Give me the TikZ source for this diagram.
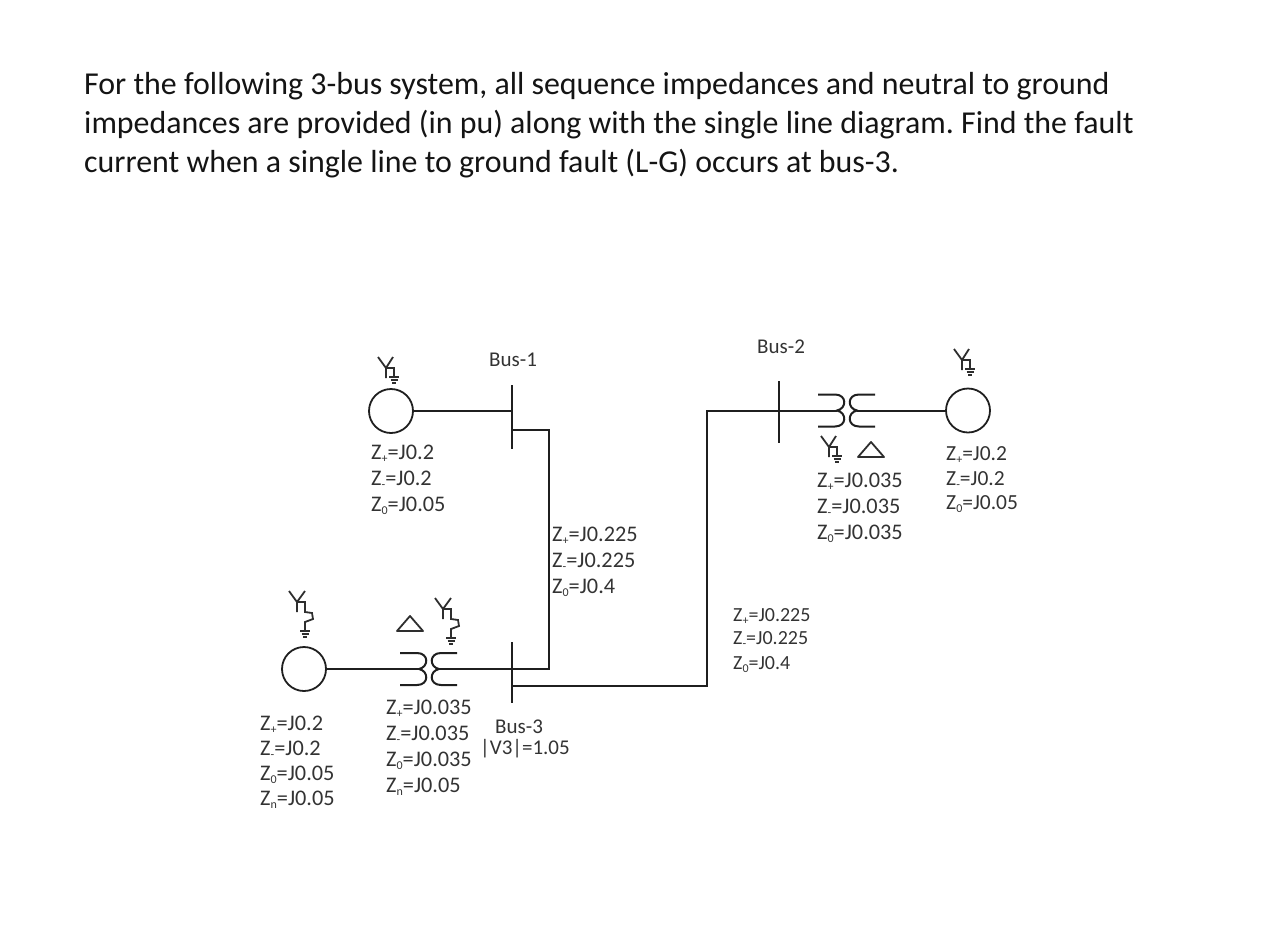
\documentclass[tikz,border=0pt]{standalone}
\usepackage{fontspec}
\setmainfont{Carlito}
\frenchspacing
\newcommand{\zl}[2]{Z{\fontsize{12}{12}\selectfont\raisebox{-3pt}{#1}}=J#2}
\tikzset{
  x=1pt,y=-1pt,
  wire/.style={line width=2pt,color=black!88},
  thin wire/.style={line width=1.8pt,color=black!82},
  qtext/.style={anchor=west,inner sep=0pt,font=\fontsize{31.9}{34}\selectfont,text=black!92},
  lbl/.style={anchor=base west,inner sep=0pt,yshift=-6pt,font=\fontsize{22.3}{24}\selectfont,text=black!80},
  buslbl/.style={lbl,font=\fontsize{21}{24}\selectfont},
  smalllbl/.style={lbl,font=\fontsize{20}{22}\selectfont},
  midlbl/.style={lbl,font=\fontsize{21.5}{24}\selectfont},
  gen/.style={circle,draw=black!88,line width=1.8pt,minimum size=44pt,inner sep=0pt},
  xfmr/.pic={
    \coordinate (-l) at (-10,0);
    \coordinate (-r) at (10,0);
    \draw[wire] (-29,-16) -- (-12,-16) .. controls (0,-16) and (0,-2) .. (-10,0)
                .. controls (0,2) and (0,16) .. (-12,16) -- (-29,16);
    \draw[wire] (28,-16) -- (12,-16) .. controls (0,-16) and (0,-2) .. (10,0)
                .. controls (0,2) and (0,16) .. (12,16) -- (28,16);
  },
  ysolid/.pic={
    \draw[thin wire] (-8,-11) -- (0,0) -- (7,-11) (0,0) -- (0,10);
    \draw[thin wire] (1,0) -- (8,0) -- (8,9);
    \draw[thin wire] (3,9) -- (13,9) (4.5,12) -- (11.5,12) (6,15) -- (10,15);
  },
  yzig/.pic={
    \draw[thin wire] (-8,-11) -- (0,0) -- (8,-11) (0,0) -- (0,10);
    \draw[thin wire] (1,0) -- (8,0) -- (8,10) -- (15,11) -- (16,17) -- (8,20) -- (8,29);
    \draw[thin wire] (3,29) -- (13,29) (4.5,32) -- (11.5,32) (6,35) -- (10,35);
  },
  delta/.pic={\draw[thin wire,line join=round] (-13,7) -- (0,-8) -- (13,7) -- cycle;}
}
\begin{document}
\begin{tikzpicture}
\useasboundingbox (0,0) rectangle (1286,938);
% Question
\node[qtext] (q1) at (84,86) {For the following 3-bus system, all sequence impedances and neutral to ground};
\node[qtext] (q2) at (84,125) {impedances are provided (in pu) along with the single line diagram. Find the fault};
\node[qtext] (q3) at (84,164) {current when a single line to ground fault (L-G) occurs at bus-3.};
% Generators
\node[gen] (g1) at (391,411) {};
\node[gen] (g2) at (968,410.5) {};
\node[gen] (g3) at (304,669) {};
% Buses
\coordinate (b1t) at (512,385); \coordinate (b1b) at (512,449);
\coordinate (b1a) at (512,411); \coordinate (b1c) at (512,430);
\coordinate (b2t) at (779,381); \coordinate (b2b) at (779,443);
\coordinate (b2a) at (779,410.5);
\coordinate (b3t) at (512,642); \coordinate (b3b) at (512,703);
\coordinate (b3a) at (512,669); \coordinate (b3c) at (512,686);
\draw[wire] (b1t) -- (b1b);
\draw[wire] (b2t) -- (b2b);
\draw[wire] (b3t) -- (b3b);
% Transformers
\pic (t2) at (847,410.5) {xfmr};
\pic (t3) at (429,669) {xfmr};
% Connectors
\coordinate (c1) at (549,430);
\coordinate (c2) at (549,669);
\coordinate (c3) at (707,686);
\coordinate (c4) at (707,410.5);
\draw[wire] (g1) -- (b1a);
\draw[wire] (b1c) -- (c1) -- (c2) -- (t3-r);
\draw[wire] (g3) -- (t3-l);
\draw[wire] (b3c) -- (c3) -- (c4) -- (b2a) -- (t2-l);
\draw[wire] (t2-r) -- (g2);
% Grounding symbols
\pic at (386,368) {ysolid};
\pic at (962,360) {ysolid};
\pic at (829,447) {ysolid};
\pic at (297,602) {yzig};
\pic at (443,609) {yzig};
\pic at (410,624) {delta};
\pic at (871,450) {delta};
% Labels
\node[buslbl] (bl1) at (489,360) {Bus-1};
\node[buslbl] (bl2) at (757,347) {Bus-2};
\node[buslbl] (bl3) at (495,727) {Bus-3};
\node[buslbl] (v3) at (480,748) {|V3|=1.05};
\node[lbl] (a1) at (371,453) {\zl{+}{0.2}};
\node[lbl] (a2) at (371,479) {\zl{-}{0.2}};
\node[lbl] (a3) at (371,505) {\zl{0}{0.05}};
\node[lbl] (b1) at (552,535) {\zl{+}{0.225}};
\node[lbl] (b2) at (552,561) {\zl{-}{0.225}};
\node[lbl] (b3) at (552,587) {\zl{0}{0.4}};
\node[lbl] (d1) at (817,481) {\zl{+}{0.035}};
\node[lbl] (d2) at (817,507) {\zl{-}{0.035}};
\node[lbl] (d3) at (817,533) {\zl{0}{0.035}};
\node[midlbl] (e1) at (946,454) {\zl{+}{0.2}};
\node[midlbl] (e2) at (946,479) {\zl{-}{0.2}};
\node[midlbl] (e3) at (946,503) {\zl{0}{0.05}};
\node[smalllbl] (f1) at (733,615) {\zl{+}{0.225}};
\node[smalllbl] (f2) at (733,638) {\zl{-}{0.225}};
\node[smalllbl] (f3) at (733,663) {\zl{0}{0.4}};
\node[lbl] (h1) at (260,724) {\zl{+}{0.2}};
\node[lbl] (h2) at (260,749) {\zl{-}{0.2}};
\node[lbl] (h3) at (260,774) {\zl{0}{0.05}};
\node[lbl] (h4) at (260,799) {\zl{n}{0.05}};
\node[lbl] (k1) at (386,708) {\zl{+}{0.035}};
\node[lbl] (k2) at (386,734) {\zl{-}{0.035}};
\node[lbl] (k3) at (386,760) {\zl{0}{0.035}};
\node[lbl] (k4) at (386,786) {\zl{n}{0.05}};
\end{tikzpicture}
\end{document}
